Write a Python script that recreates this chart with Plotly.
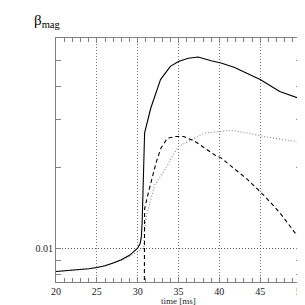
import plotly.graph_objects as go

# solid curve
t_solid = [20, 22, 24, 25, 26, 27, 28, 29, 29.5, 30, 30.3, 30.45, 30.55, 30.65, 30.75, 30.85,
           31.6, 32.8, 34.0, 35.0, 36.2, 37.4, 39.0, 40.2, 41.8, 45.0, 47.4, 50]
v_solid = [0.00819, 0.00828, 0.00838, 0.00847, 0.0086, 0.0088, 0.00905, 0.0094, 0.0097, 0.0100, 0.0104,
           0.0110, 0.0125, 0.0170, 0.0220, 0.0268,
           0.0331, 0.0423, 0.0474, 0.0494, 0.0508, 0.0513, 0.0497, 0.0488, 0.0470, 0.0423, 0.0382, 0.0358]

# dashed curve
t_dash = [30.8, 30.85, 31.4, 31.84, 32.3, 32.84, 33.64, 34.64, 35.64, 37.04, 39.44, 40.24,
          43.44, 45.56, 47.44, 50]
v_dash = [0.0050, 0.0140, 0.0165, 0.0185, 0.0210, 0.0235, 0.0256, 0.0260, 0.0260, 0.0249, 0.0222,
          0.0216, 0.0180, 0.0156, 0.0135, 0.01065]

# dotted curve
t_dot = [20, 22, 24, 25, 26, 27, 28, 29, 29.5, 30, 30.5, 30.75, 30.85, 31.1, 31.5, 32.1, 33.44,
         34.24, 35.04, 36.24, 37.04, 38.24, 39.44, 41.44, 43.44, 45.44, 47.84, 50]
v_dot = [0.00819, 0.00828, 0.00838, 0.00847, 0.0086, 0.0088, 0.0090, 0.0093, 0.0095, 0.0097, 0.0099,
         0.0101, 0.0118, 0.0133, 0.0148, 0.0172, 0.0198, 0.0219, 0.0239, 0.0249, 0.02565, 0.0268,
         0.0270, 0.0274, 0.0268, 0.0260, 0.0253, 0.0248]

x_ticks = [20, 25, 30, 35, 40, 45, 50]
y_major = [0.01]
y_major_text = ["0.01"]
y_minor = [0.008, 0.009, 0.02, 0.03, 0.04, 0.05]

fig = go.Figure()
fig.add_trace(go.Scatter(x=t_dot, y=v_dot, mode="lines",
                         line=dict(color="#888888", width=1.1, dash="1px,2px")))
fig.add_trace(go.Scatter(x=t_dash, y=v_dash, mode="lines",
                         line=dict(color="black", width=1.1, dash="4px,3px")))
fig.add_trace(go.Scatter(x=t_solid, y=v_solid, mode="lines",
                         line=dict(color="black", width=1.1)))

axis_font = dict(family="Liberation Serif, Times New Roman, serif", size=10, color="#222222")

fig.update_layout(
    width=305, height=305,
    margin=dict(l=48, r=7, t=30, b=31),
    paper_bgcolor="white", plot_bgcolor="white",
    showlegend=False,
    font=axis_font,
    xaxis=dict(
        range=[20, 50], tickvals=x_ticks, ticktext=[str(v) for v in x_ticks],
        showgrid=True, gridcolor="#777777", griddash="1px,2px", gridwidth=1,
        showline=True, linecolor="#808080", linewidth=1, mirror="ticks",
        ticks="inside", ticklen=5, tickcolor="#808080", tickfont=axis_font,
        zeroline=False,
        minor=dict(dtick=1, ticks="inside", ticklen=4, tickcolor="#808080", showgrid=False),
    ),
    yaxis=dict(
        type="log", range=[-2.126, -1.219],
        tickvals=y_major, ticktext=y_major_text,
        showgrid=True, gridcolor="#555555", griddash="1px,2px", gridwidth=1,
        showline=True, linecolor="#808080", linewidth=1, mirror="ticks",
        ticks="inside", ticklen=5, tickcolor="#808080", tickfont=axis_font,
        zeroline=False,
        minor=dict(tickvals=y_minor, ticks="inside", ticklen=5, tickcolor="#808080", showgrid=False),
    ),
    annotations=[
        dict(text="β<sub>mag</sub>", xref="paper", yref="paper", x=-0.1, y=1.07,
             xanchor="left", yanchor="middle", showarrow=False,
             font=dict(family="Liberation Serif, Times New Roman, serif", size=15, color="black")),
        dict(text="time [ms]", xref="paper", yref="paper", x=0.5, y=-0.078,
             xanchor="center", yanchor="middle", showarrow=False,
             font=dict(family="Liberation Serif, Times New Roman, serif", size=9, color="#222222")),
    ],
)

fig.write_html("out.html")
